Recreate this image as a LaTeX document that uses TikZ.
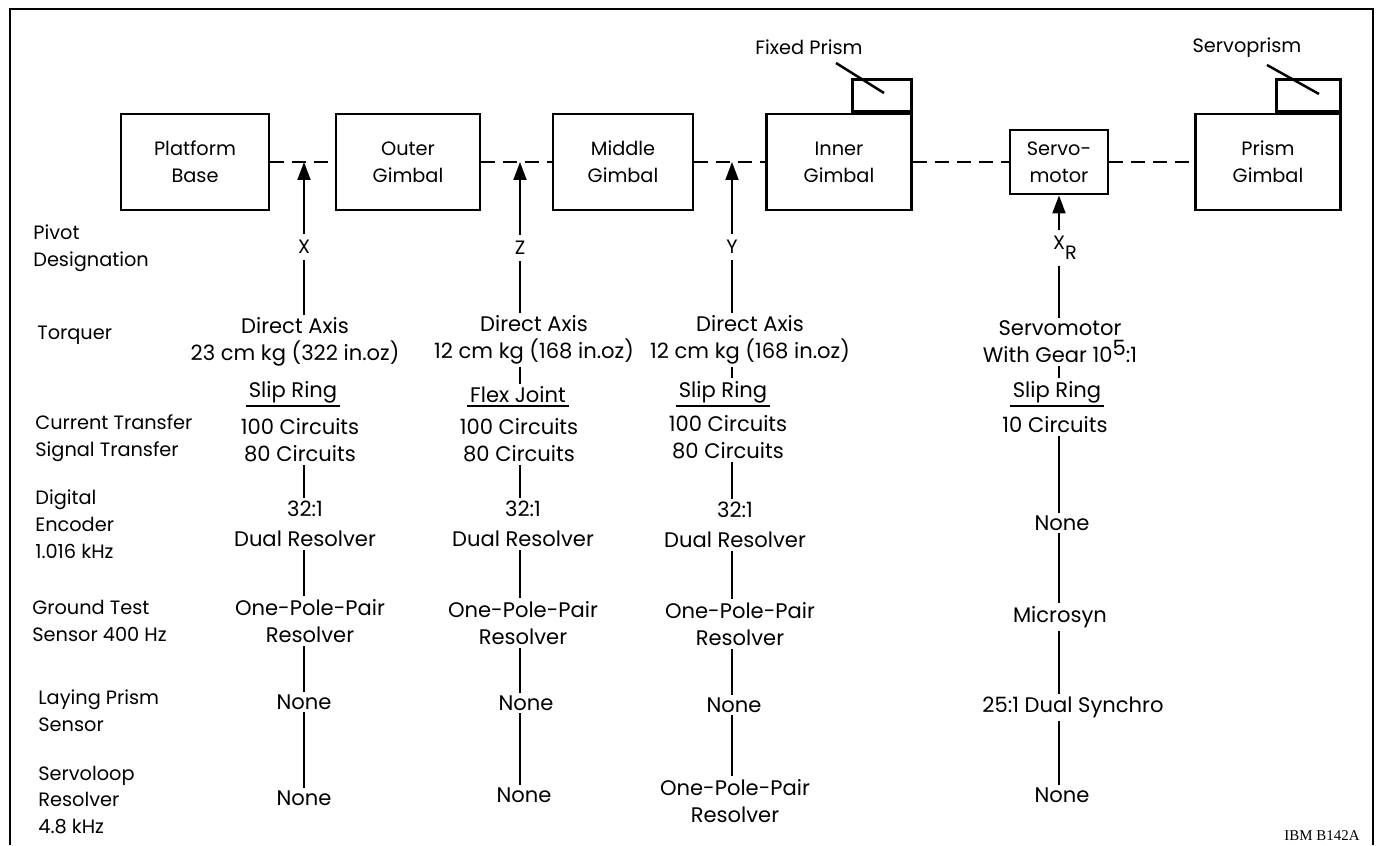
\documentclass[tikz,border=0pt]{standalone}
\usepackage{fontspec}
\setmainfont{Poppins}
\newfontfamily\ibmfont{Liberation Serif}
\usetikzlibrary{arrows.meta,positioning}

\tikzset{
  gimbal/.style={draw, line width=1.6pt, align=center, minimum width=2.9cm, minimum height=1.92cm, inner sep=2pt},
  prismbox/.style={draw, line width=1.6pt, minimum height=0.64cm, inner sep=0pt},
  entry/.style={align=center, inner sep=1.5pt, font=\fontsize{12}{15.3}\selectfont},
  rowlabel/.style={anchor=west, align=left, inner sep=0pt},
  axisline/.style={line width=1.1pt},
  rule/.style={line width=1.4pt},
  shaft/.style={line width=1.4pt, dash pattern=on 8pt off 4.5pt},
  pivot/.style={axisline, -{Triangle[length=3.6mm,width=2.6mm]}},
}

\begin{document}
\begin{tikzpicture}[x=0.02cm, y=-0.02cm, font=\fontsize{11}{15.3}\selectfont]
	\useasboundingbox (0,0) rectangle (1379,845);
	\draw[line width=1.5pt] (10,845) -- (10,9) -- (1373,9) -- (1373,845);

	% gimbal chain
	\node[gimbal, minimum width=2.96cm] (base) at (195,162) {Platform\\Base};
	\node[gimbal, minimum width=2.88cm] (outer) at (408,162) {Outer\\Gimbal};
	\node[gimbal, minimum width=2.8cm] (middle) at (623,162) {Middle\\Gimbal};
	\node[gimbal] (inner) at (839,162) {Inner\\Gimbal};
	\node[gimbal, minimum width=1.96cm, minimum height=1.28cm] (servo) at (1059,162) {Servo-\\motor};
	\node[gimbal] (prism) at (1268,162) {Prism\\Gimbal};
	\node[prismbox, minimum width=1.18cm, anchor=south east] (fixp) at (inner.north east) {};
	\node[prismbox, minimum width=1.28cm, anchor=south east] (servp) at (prism.north east) {};

	\draw[shaft] (base) -- (outer);
	\draw[shaft] (outer) -- (middle);
	\draw[shaft] (middle) -- (inner);
	\draw[shaft] (inner) -- (servo);
	\draw[shaft] (servo) -- (prism);

	\node (fpl) at (809,47) {Fixed Prism};
	\node (spl) at (1247,48) {Servoprism};
	\coordinate (fpa) at (836,63);
	\coordinate (fpb) at (884,93);
	\coordinate (spa) at (1267,65);
	\coordinate (spb) at (1319,94);
	\draw[rule] (fpa) -- (fpb);
	\draw[rule] (spa) -- (spb);

	% row labels
	\node[rowlabel] (lpiv) at (33,248) {Pivot\\Designation};
	\node[rowlabel] (ltq) at (37,335) {Torquer};
	\node[rowlabel] (ltr) at (35,438) {Current Transfer\\Signal Transfer};
	\node[rowlabel] (lenc) at (35,524) {Digital\\Encoder\\1.016 kHz};
	\node[rowlabel] (lgt) at (32,621) {Ground Test\\Sensor 400 Hz};
	\node[rowlabel] (llp) at (38,711) {Laying Prism\\Sensor};
	\node[rowlabel] (lsl) at (38,800) {Servoloop\\Resolver\\4.8 kHz};

	% pivot X
	\coordinate (px) at (304,162);
	\node (x) at (304,247) {X};
	\draw[pivot] (x) -- (px);
	\node[entry] (tq1) at (295,342) {Direct Axis\\23 cm kg (322 in.oz)};
	\node[entry, anchor=south] (sr1) at (293,406) {Slip Ring};
	\draw[rule] (sr1.south west) -- (sr1.south east);
	\node[entry] (cc1) at (300,440) {100 Circuits\\80 Circuits};
	\node[entry] (enc1) at (305,524) {32:1\\[2pt]Dual Resolver};
	\node[entry] (gt1) at (310,621) {One-Pole-Pair\\Resolver};
	\node[entry] (lp1) at (304,702) {None};
	\node[entry] (sl1) at (304,798) {None};
	\draw[axisline] (x) -- (x |- tq1.north);
	\draw[axisline] (x |- cc1.south) -- (x |- enc1.north);
	\draw[axisline] (x |- enc1.south) -- (x |- gt1.north);
	\draw[axisline] (x |- gt1.south) -- (x |- lp1.north);
	\draw[axisline] (x |- lp1.south) -- (x |- sl1.north);

	% pivot Z
	\coordinate (pz) at (520,162);
	\node (z) at (520,248) {Z};
	\draw[pivot] (z) -- (pz);
	\node[entry] (tq2) at (534,340) {Direct Axis\\12 cm kg (168 in.oz)};
	\node[entry, anchor=south] (fj2) at (518,406) {Flex Joint};
	\draw[rule] (fj2.south west) -- (fj2.south east);
	\node[entry] (cc2) at (519,440) {100 Circuits\\80 Circuits};
	\node[entry] (enc2) at (523,524) {32:1\\[2pt]Dual Resolver};
	\node[entry] (gt2) at (523,623) {One-Pole-Pair\\Resolver};
	\node[entry] (lp2) at (526,703) {None};
	\node[entry] (sl2) at (524,795) {None};
	\draw[axisline] (z) -- (z |- tq2.north);
	\draw[axisline] (z |- tq2.south) -- (z |- fj2.north);
	\draw[axisline] (z |- cc2.south) -- (z |- enc2.north);
	\draw[axisline] (z |- enc2.south) -- (z |- gt2.north);
	\draw[axisline] (z |- gt2.south) -- (z |- lp2.north);
	\draw[axisline] (z |- lp2.south) -- (z |- sl2.north);

	% pivot Y
	\coordinate (py) at (732,162);
	\node (y) at (732,247) {Y};
	\draw[pivot] (y) -- (py);
	\node[entry] (tq3) at (750,340) {Direct Axis\\12 cm kg (168 in.oz)};
	\node[entry, anchor=south] (sr3) at (723,406) {Slip Ring};
	\draw[rule] (sr3.south west) -- (sr3.south east);
	\node[entry] (cc3) at (728,437) {100 Circuits\\80 Circuits};
	\node[entry] (enc3) at (735,525) {32:1\\[2pt]Dual Resolver};
	\node[entry] (gt3) at (740,624) {One-Pole-Pair\\Resolver};
	\node[entry] (lp3) at (734,705) {None};
	\node[entry] (sl3) at (735,801) {One-Pole-Pair\\Resolver};
	\draw[axisline] (y) -- (y |- tq3.north);
	\draw[axisline] (y |- tq3.south) -- (y |- sr3.north);
	\draw[axisline] (y |- cc3.south) -- (y |- enc3.north);
	\draw[axisline] (y |- enc3.south) -- (y |- gt3.north);
	\draw[axisline] (y |- gt3.south) -- (y |- lp3.north);
	\draw[axisline] (y |- lp3.south) -- (y |- sl3.north);

	% pivot XR
	\node (xr) at (1059,248) {X\rlap{\raisebox{-0.9ex}{R}}};
	\draw[pivot] (xr) -- (servo);
	\node[entry] (sm4) at (1060,342) {Servomotor\\With Gear 10\raisebox{0.6ex}{5}:1};
	\node[entry, anchor=south] (sr4) at (1057,406) {Slip Ring};
	\draw[rule] (sr4.south west) -- (sr4.south east);
	\node[entry] (cc4) at (1055,425) {10 Circuits};
	\node[entry] (no4) at (1062,523) {None};
	\node[entry] (mi4) at (1060,617) {Microsyn};
	\node[entry] (ds4) at (1073,707) {25:1 Dual Synchro};
	\node[entry] (sl4) at (1062,795) {None};
	\draw[axisline] (xr) -- (xr |- sm4.north);
	\draw[axisline] (xr |- sm4.south) -- (xr |- sr4.north);
	\draw[axisline] (xr |- cc4.south) -- (xr |- no4.north);
	\draw[axisline] (xr |- no4.south) -- (xr |- mi4.north);
	\draw[axisline] (xr |- mi4.south) -- (xr |- ds4.north);
	\draw[axisline] (xr |- ds4.south) -- (xr |- sl4.north);

	\node[font=\ibmfont\fontsize{8.5}{10}\selectfont] (ibm) at (1322,836) {IBM B142A};
\end{tikzpicture}
\end{document}
